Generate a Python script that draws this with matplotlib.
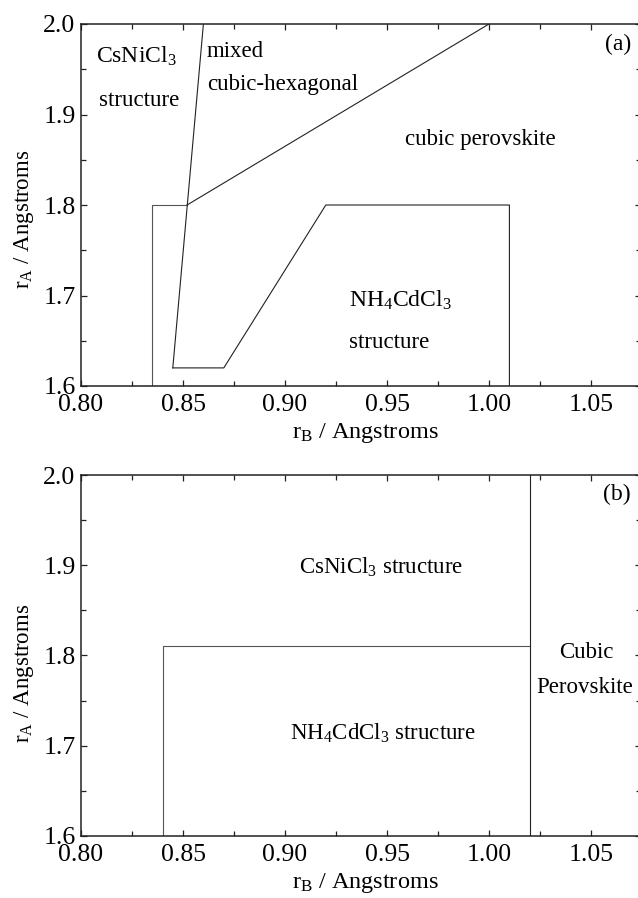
import matplotlib
matplotlib.use("Agg")
import matplotlib.pyplot as plt
from matplotlib.ticker import MultipleLocator

plt.rcParams['font.family'] = ['Liberation Serif', 'DejaVu Serif']
plt.rcParams['mathtext.fontset'] = 'custom'
plt.rcParams['mathtext.rm'] = 'Liberation Serif'
plt.rcParams['mathtext.it'] = 'Liberation Serif'

# ---- data: panel (a) boundaries (r_B, r_A) ----
a_left_box_x = [0.835, 0.835, 0.852]
a_left_box_y = [1.60, 1.80, 1.80]
a_steep_x = [0.845, 0.860]
a_steep_y = [1.62, 2.00]
a_cubic_x = [0.852, 1.000]
a_cubic_y = [1.80, 2.00]
a_nh4_x = [0.845, 0.870, 0.920, 1.010, 1.010]
a_nh4_y = [1.62, 1.62, 1.80, 1.80, 1.60]

# ---- data: panel (b) boundaries ----
b_box_x = [0.84, 0.84, 1.02]
b_box_y = [1.60, 1.81, 1.81]
b_vert_x = [1.02, 1.02]
b_vert_y = [1.60, 2.00]

x_ticks = [0.80, 0.85, 0.90, 0.95, 1.00, 1.05]
y_ticks = [1.6, 1.7, 1.8, 1.9, 2.0]
x_lim = (0.80, 1.0745)
y_lim = (1.6, 2.0)

W, H = 638, 898
fig = plt.figure(figsize=(W / 100, H / 100), dpi=100)

def px_axes(l, t, r, b):
    return fig.add_axes([l / W, 1 - b / H, (r - l) / W, (b - t) / H])

ax_a = px_axes(81, 24, 641, 386)
ax_b = px_axes(81, 475, 641, 836)

LC = '#222222'
LW = 0.8
FS_TICK = 18.5
FS_LAB = 17.5
FS_TXT = 16.5

for ax in (ax_a, ax_b):
    ax.set_xlim(*x_lim)
    ax.set_ylim(*y_lim)
    ax.set_xticks(x_ticks)
    ax.set_xticklabels([f"{v:.2f}" for v in x_ticks])
    ax.set_yticks(y_ticks)
    ax.set_yticklabels([f"{v:.1f}" for v in y_ticks])
    ax.xaxis.set_minor_locator(MultipleLocator(0.025))
    ax.yaxis.set_minor_locator(MultipleLocator(0.05))
    ax.tick_params(which='both', direction='in', top=True, right=True,
                   width=0.9, color='#222222')
    ax.tick_params(which='major', length=4.5, labelsize=FS_TICK)
    ax.tick_params(which='minor', length=3.5)
    ax.tick_params(axis='x', which='major', pad=5.5)
    ax.tick_params(axis='y', which='major', pad=4.0)
    for s in ax.spines.values():
        s.set_linewidth(1.1)
        s.set_color('#222222')
    ax.set_xlabel(r'r$_\mathrm{B}$ / Angstroms', fontsize=FS_LAB)
    ax.set_ylabel(r'r$_\mathrm{A}$ / Angstroms', fontsize=16.5)
    ax.xaxis.set_label_coords(0.508, -0.098)

ax_a.yaxis.set_label_coords(-0.08, 0.46)
ax_b.yaxis.set_label_coords(-0.08, 0.45)

# panel (a)
ax_a.plot(a_left_box_x, a_left_box_y, color='#555555', lw=LW)
ax_a.plot(a_steep_x, a_steep_y, color=LC, lw=LW)
ax_a.plot(a_cubic_x, a_cubic_y, color=LC, lw=LW)
ax_a.plot(a_nh4_x, a_nh4_y, color=LC, lw=LW)

ax_a.text(0.827, 1.964, r'CsNiCl$_3$', fontsize=FS_TXT + 0.5, ha='center', va='center')
ax_a.text(0.8285, 1.915, 'structure', fontsize=FS_TXT, ha='center', va='center')
ax_a.text(0.8618, 1.970, 'mixed', fontsize=FS_TXT, ha='left', va='center')
ax_a.text(0.8618, 1.933, 'cubic-hexagonal', fontsize=FS_TXT, ha='left', va='center')
ax_a.text(0.9956, 1.872, 'cubic perovskite', fontsize=FS_TXT, ha='center', va='center')
ax_a.text(0.9315, 1.6945, r'NH$_4$CdCl$_3$', fontsize=FS_TXT + 0.5, ha='left', va='center')
ax_a.text(0.9315, 1.648, 'structure', fontsize=FS_TXT, ha='left', va='center')
ax_a.text(1.0696, 1.977, '(a)', fontsize=17, ha='right', va='center')

# panel (b)
ax_b.plot(b_box_x, b_box_y, color='#555555', lw=LW)
ax_b.plot(b_vert_x, b_vert_y, color=LC, lw=LW)

ax_b.text(0.947, 1.898, r'CsNiCl$_3$ structure', fontsize=FS_TXT, ha='center', va='center')
ax_b.text(0.948, 1.714, r'NH$_4$CdCl$_3$ structure', fontsize=FS_TXT, ha='center', va='center')
ax_b.text(1.0475, 1.8028, 'Cubic', fontsize=FS_TXT, ha='center', va='center')
ax_b.text(1.047, 1.764, 'Perovskite', fontsize=FS_TXT, ha='center', va='center')
ax_b.text(1.0696, 1.978, '(b)', fontsize=17, ha='right', va='center')

fig.savefig('out.png', dpi=100)
